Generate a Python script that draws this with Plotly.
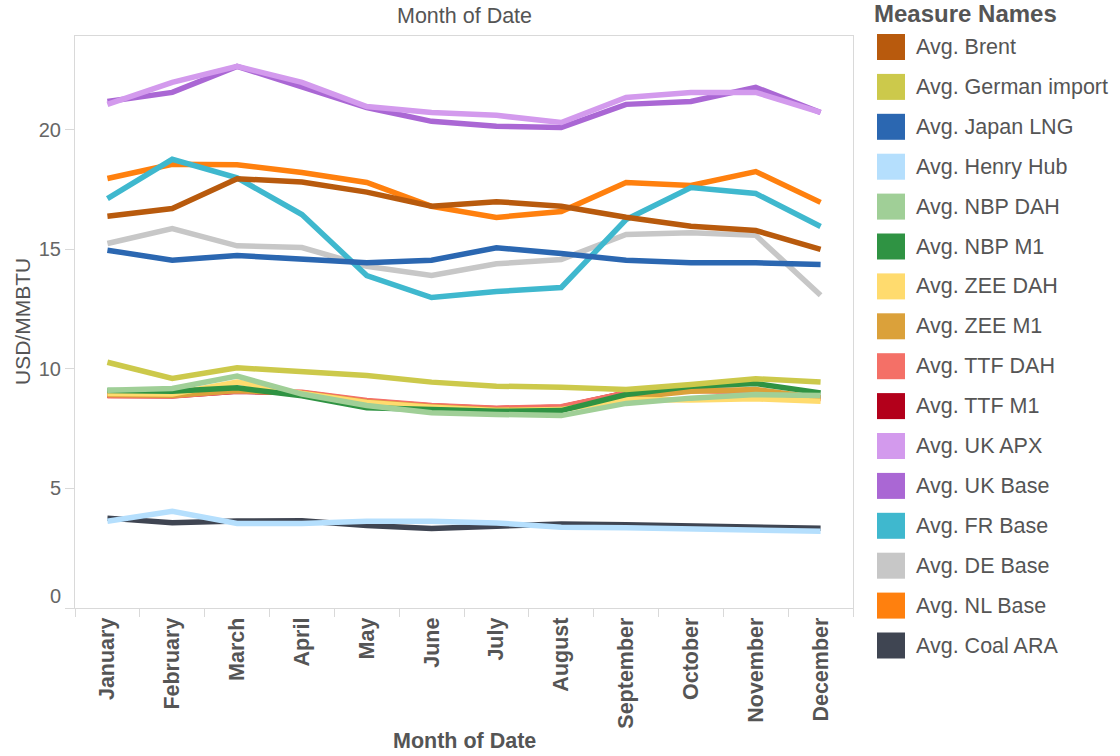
import plotly.graph_objects as go

# Monthly averages, USD/MMBTU
months = ["January", "February", "March", "April", "May", "June",
          "July", "August", "September", "October", "November", "December"]

brent = [16.39, 16.71, 17.96, 17.82, 17.40, 16.81, 17.00, 16.81, 16.35, 15.97, 15.79, 15.00]
german_import = [10.28, 9.60, 10.05, 9.88, 9.73, 9.45, 9.28, 9.24, 9.14, 9.35, 9.59, 9.45]
japan_lng = [14.97, 14.55, 14.75, 14.58, 14.44, 14.55, 15.07, 14.83, 14.55, 14.44, 14.44, 14.37]
henry_hub = [3.63, 4.05, 3.54, 3.54, 3.63, 3.63, 3.56, 3.38, 3.36, 3.31, 3.28, 3.21]
nbp_dah = [9.11, 9.18, 9.70, 8.95, 8.47, 8.17, 8.10, 8.05, 8.56, 8.78, 8.93, 8.89]
nbp_m1 = [9.10, 9.07, 9.21, 8.88, 8.38, 8.28, 8.23, 8.26, 8.93, 9.28, 9.39, 9.00]
zee_dah = [8.97, 8.95, 9.45, 8.98, 8.60, 8.40, 8.26, 8.30, 8.72, 8.70, 8.75, 8.65]
zee_m1 = [8.93, 8.90, 9.10, 8.98, 8.62, 8.42, 8.28, 8.30, 8.80, 9.07, 9.14, 8.78]
ttf_dah = [8.88, 8.87, 9.08, 9.03, 8.68, 8.47, 8.36, 8.42, 9.00, 9.10, 9.05, 8.75]
ttf_m1 = [8.90, 8.88, 9.07, 9.00, 8.65, 8.45, 8.34, 8.40, 9.00, 9.12, 9.08, 8.78]
uk_apx = [21.07, 21.99, 22.66, 21.99, 20.98, 20.73, 20.61, 20.31, 21.36, 21.57, 21.57, 20.73]
uk_base = [21.19, 21.57, 22.66, 21.78, 20.94, 20.36, 20.15, 20.10, 21.07, 21.19, 21.78, 20.73]
fr_base = [17.13, 18.77, 18.00, 16.46, 13.91, 12.99, 13.24, 13.41, 16.25, 17.59, 17.34, 15.96]
de_base = [15.25, 15.87, 15.15, 15.08, 14.30, 13.91, 14.40, 14.58, 15.63, 15.70, 15.59, 13.08]
nl_base = [17.97, 18.56, 18.54, 18.22, 17.80, 16.80, 16.34, 16.59, 17.80, 17.68, 18.26, 16.97]
coal_ara = [3.76, 3.57, 3.64, 3.65, 3.45, 3.33, 3.42, 3.51, 3.48, 3.44, 3.42, 3.34]

measure_names = ["Avg. Brent", "Avg. German import", "Avg. Japan LNG", "Avg. Henry Hub",
                 "Avg. NBP DAH", "Avg. NBP M1", "Avg. ZEE DAH", "Avg. ZEE M1",
                 "Avg. TTF DAH", "Avg. TTF M1", "Avg. UK APX", "Avg. UK Base",
                 "Avg. FR Base", "Avg. DE Base", "Avg. NL Base", "Avg. Coal ARA"]
measure_values = [brent, german_import, japan_lng, henry_hub, nbp_dah, nbp_m1,
                  zee_dah, zee_m1, ttf_dah, ttf_m1, uk_apx, uk_base,
                  fr_base, de_base, nl_base, coal_ara]
measure_colors = ["#b85a0d", "#ccc94b", "#2b67b1", "#b5dffd", "#a0cf97", "#2f9343",
                  "#ffdb6e", "#dba13a", "#f47067", "#b3001b", "#d39aed", "#aa67d4",
                  "#3fb8ce", "#c7c7c7", "#ff800e", "#3f4552"]

y_ticks = [0, 5, 10, 15, 20]

W, H = 1120, 756
L, R, T, B = 75, 853, 36, 608  # plot area in pixels

FONT = "Liberation Sans, Arial, sans-serif"
TXT = "#555555"
AXIS = "#d9d9d9"

fig = go.Figure()

# first measure ends up drawn on top
for name, vals, col in reversed(list(zip(measure_names, measure_values, measure_colors))):
    fig.add_trace(go.Scatter(
        x=months, y=vals, name=name, mode="lines",
        line=dict(color=col, width=5.5),
        showlegend=False,
        hovertemplate="%{x}<br>" + name + ": %{y:.2f}<extra></extra>",
    ))


def px_x(p):
    return (p - L) / (R - L)


def px_y(p):
    return (B - p) / (B - T)


shapes = []
annotations = []

# legend block
annotations.append(dict(
    text="<b>Measure Names</b>", x=px_x(872), y=px_y(14), xref="paper", yref="paper",
    xanchor="left", yanchor="middle", showarrow=False,
    font=dict(family=FONT, size=24, color=TXT),
))
for i, (name, col) in enumerate(zip(measure_names, measure_colors)):
    cy = 47 + i * 39.9
    shapes.append(dict(
        type="rect", xref="paper", yref="paper",
        x0=px_x(877), x1=px_x(905), y0=px_y(cy - 13), y1=px_y(cy + 13),
        fillcolor=col, line=dict(width=0),
    ))
    annotations.append(dict(
        text=name, x=px_x(914), y=px_y(cy), xref="paper", yref="paper",
        xanchor="left", yanchor="middle", showarrow=False,
        font=dict(family=FONT, size=21.5, color=TXT),
    ))

# the zero label sits a little above its tick, clear of the axis corner
annotations.append(dict(
    text=str(y_ticks[0]), x=px_x(63), y=px_y(596), xref="paper", yref="paper",
    xanchor="right", yanchor="middle", showarrow=False,
    font=dict(family=FONT, size=20, color="#666666"),
))

# header and axis titles
annotations.append(dict(
    text="Month of Date", x=0.5, y=px_y(16), xref="paper", yref="paper",
    xanchor="center", yanchor="middle", showarrow=False,
    font=dict(family=FONT, size=21.5, color=TXT),
))
annotations.append(dict(
    text="<b>Month of Date</b>", x=0.5, y=px_y(741), xref="paper", yref="paper",
    xanchor="center", yanchor="middle", showarrow=False,
    font=dict(family=FONT, size=21.5, color=TXT),
))
annotations.append(dict(
    text="USD/MMBTU", x=px_x(22), y=0.5, xref="paper", yref="paper",
    xanchor="center", yanchor="middle", textangle=-90, showarrow=False,
    font=dict(family=FONT, size=21, color=TXT),
))

fig.update_layout(
    width=W, height=H,
    margin=dict(l=L, r=W - R, t=T, b=H - B, pad=0),
    paper_bgcolor="white", plot_bgcolor="white",
    shapes=shapes, annotations=annotations,
    showlegend=False,
    font=dict(family=FONT, color=TXT),
)
fig.update_xaxes(
    type="category", categoryorder="array", categoryarray=months,
    range=[-0.5, len(months) - 0.5],
    tickangle=-90, tickson="boundaries", ticks="outside", ticklen=8,
    tickcolor=AXIS, tickwidth=1,
    tickfont=dict(family=FONT, size=21.5, color=TXT, weight="bold"),
    showline=True, linecolor=AXIS, linewidth=1, mirror=True,
    showgrid=False, zeroline=False,
)
fig.update_yaxes(
    range=[0, 23.93], tickvals=y_ticks,
    ticktext=[""] + [str(v) for v in y_ticks[1:]],
    ticks="outside", ticklen=9, tickcolor=AXIS, tickwidth=1,
    tickfont=dict(family=FONT, size=20, color="#666666"),
    showline=True, linecolor=AXIS, linewidth=1, mirror=True,
    showgrid=False, zeroline=False,
)

fig.write_html("out.html")
